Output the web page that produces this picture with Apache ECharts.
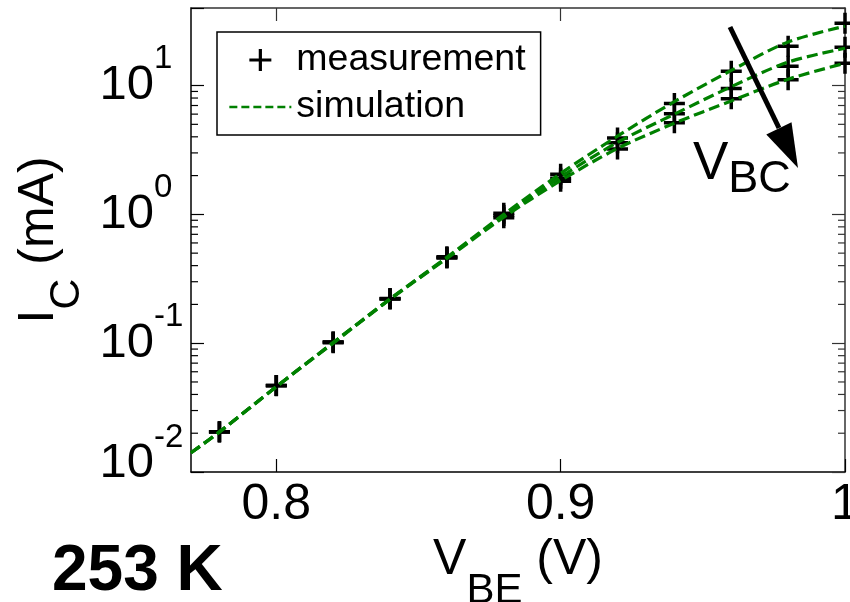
<!DOCTYPE html>
<html><head><meta charset="utf-8">
<script src="https://cdn.jsdelivr.net/npm/echarts@6/dist/echarts.min.js"></script>
<style>html,body{margin:0;padding:0;background:#fff}#c{width:850px;height:602px}</style>
</head><body><div id="c"></div>
<script>
// ---- data ----
const vbeMeas  = [0.78, 0.80, 0.82, 0.84, 0.86, 0.88, 0.90, 0.92, 0.94, 0.96, 0.98, 1.00];
const measHigh = [0.0205, 0.047, 0.102, 0.222, 0.468, 1.02, 2.05, 3.92, 7.24, 12.9, 20.2, 30.5];
const measMid  = [0.0205, 0.047, 0.102, 0.221, 0.463, 0.98, 1.91, 3.59, 6.04, 9.48, 14.1, 19.8];
const measLow  = [0.0204, 0.0468, 0.101, 0.220, 0.458, 0.94, 1.81, 3.22, 5.14, 7.91, 11.1, 14.9];

const vbeSim  = [0.77, 0.78, 0.80, 0.82, 0.84, 0.86, 0.88, 0.90, 0.92, 0.94, 0.96, 0.98, 1.00];
const simHigh = [0.0141, 0.0205, 0.046, 0.101, 0.221, 0.465, 1.00, 2.08, 4.05, 7.5, 13.1, 21.8, 28.9];
const simMid  = [0.0141, 0.0205, 0.046, 0.101, 0.220, 0.460, 0.975, 1.95, 3.62, 6.0, 9.8, 15.2, 19.5];
const simLow  = [0.0141, 0.0204, 0.0458, 0.100, 0.219, 0.455, 0.95, 1.83, 3.25, 5.1, 7.6, 11.2, 14.9];

const xTickValues = [0.8, 0.9, 1.0];
const yMinorTicks = [0.02,0.03,0.04,0.05,0.06,0.07,0.08,0.09,
                     0.2,0.3,0.4,0.5,0.6,0.7,0.8,0.9,
                     2,3,4,5,6,7,8,9];
const legendNames = ['measurement', 'simulation'];

// ---- chart ----
const FONT = "'Liberation Sans', Arial, Helvetica, sans-serif";
const XMIN = 0.77, XMAX = 1.0, YMIN = 0.01, YMAX = 40;
const pairs = (xs, ys) => xs.map((x, i) => [x, ys[i]]);
const measData = [].concat(pairs(vbeMeas, measHigh), pairs(vbeMeas, measMid), pairs(vbeMeas, measLow));
const PLUS = 'path://M0,10L20,10M10,0L10,20';
const simLine = {color: '#008000', width: 3.2, type: [11, 5]};

function yLabel(v) {
  const l = Math.log10(v); const k = Math.round(l);
  if (Math.abs(l - k) > 1e-3) return '';
  if (k === -2) return '{b2|10}{s2|' + k + '}';
  return '{b|10}{s|' + k + '}';
}
function simSeries(ys) {
  return {type: 'line', name: 'simulation', data: pairs(vbeSim, ys), symbol: 'none',
          smooth: 0.3, lineStyle: simLine, itemStyle: {color: '#008000'}, z: 3};
}

const chart = echarts.init(document.getElementById('c'));
chart.setOption({
  animation: false,
  grid: {left: 191, right: 5, top: 8, bottom: 130, containLabel: false, outerBoundsMode: 'none'},
  xAxis: [{
    type: 'value', min: XMIN, max: XMAX, position: 'bottom',
    axisLine: {show: true, onZero: false, lineStyle: {color: '#000', width: 1.5}},
    axisTick: {show: true, inside: true, length: 13, customValues: xTickValues, lineStyle: {color: '#000', width: 1.2}},
    axisLabel: {customValues: xTickValues, margin: 8, fontSize: 50, fontFamily: FONT, color: '#000',
                formatter: v => String(+(+v).toFixed(2))},
    splitLine: {show: false},
    name: '{b|V}{sub|BE}{b| (V)}', nameLocation: 'middle', nameGap: 59,
    nameTextStyle: {rich: {
      b: {fontSize: 50, fontFamily: FONT, color: '#000', lineHeight: 50, verticalAlign: 'top'},
      sub: {fontSize: 42, fontFamily: FONT, color: '#000', lineHeight: 78, verticalAlign: 'bottom'}
    }}
  }, {
    type: 'value', min: XMIN, max: XMAX, position: 'top',
    axisLine: {show: true, onZero: false, lineStyle: {color: '#333', width: 1.5}},
    axisTick: {show: true, inside: true, length: 13, customValues: xTickValues, lineStyle: {color: '#333', width: 1.2}},
    axisLabel: {show: false}, splitLine: {show: false}
  }],
  yAxis: [{
    type: 'log', logBase: 10, min: YMIN, max: YMAX, position: 'left',
    axisLine: {show: true, onZero: false, lineStyle: {color: '#000', width: 1.5}},
    axisTick: {show: true, inside: true, length: 13, lineStyle: {color: '#000', width: 1.2}},
    axisLabel: {formatter: yLabel, margin: 6, rich: {
      b: {fontSize: 49, fontFamily: FONT, color: '#000', lineHeight: 86, verticalAlign: 'middle', align: 'left'},
      s: {fontSize: 33, fontFamily: FONT, color: '#000', lineHeight: 33, verticalAlign: 'top', width: 31, align: 'left'},
      b2: {fontSize: 49, fontFamily: FONT, color: '#000', lineHeight: 49, verticalAlign: 'top', align: 'left', padding: [18, 0, 0, 0]},
      s2: {fontSize: 33, fontFamily: FONT, color: '#000', lineHeight: 102, verticalAlign: 'top', width: 31, align: 'left'}
    }},
    splitLine: {show: false}, minorTick: {show: false},
    name: '{b|I}{sub|C}{b| (mA)}', nameLocation: 'middle', nameRotate: 90, nameGap: 76,
    nameTextStyle: {rich: {
      b: {fontSize: 50, fontFamily: FONT, color: '#000', lineHeight: 50, verticalAlign: 'top'},
      sub: {fontSize: 43, fontFamily: FONT, color: '#000', lineHeight: 74, verticalAlign: 'bottom'}
    }}
  }, {
    type: 'log', logBase: 10, min: YMIN, max: YMAX, position: 'right',
    axisLine: {show: true, onZero: false, lineStyle: {color: '#333', width: 1.5}},
    axisTick: {show: true, inside: true, length: 13, lineStyle: {color: '#333', width: 1.2}},
    axisLabel: {show: false}, splitLine: {show: false}
  }],
  legend: {
    orient: 'vertical', left: 217, top: 32, padding: [9, 15, 9, 11],
    borderColor: '#000', borderWidth: 1.5, backgroundColor: '#fff',
    itemWidth: 62, itemHeight: 22, itemGap: 9,
    textStyle: {fontSize: 37.5, fontFamily: FONT, color: '#000'},
    lineStyle: {width: 2.7, type: [8, 4], color: '#008000'},
    data: [
      {name: legendNames[0], itemStyle: {color: 'rgba(0,0,0,0)', borderColor: '#000', borderWidth: 3.2, opacity: 1}},
      {name: legendNames[1], itemStyle: {color: 'rgba(0,0,0,0)', borderColor: 'rgba(0,0,0,0)', borderWidth: 0, opacity: 0}}
    ]
  },
  series: [
    {type: 'scatter', name: 'measurement', data: measData, symbol: PLUS, symbolSize: 21,
     symbolKeepAspect: true, clip: false, z: 2,
     itemStyle: {color: 'rgba(0,0,0,0)', borderColor: '#000', borderWidth: 3.5, opacity: 1}},
    simSeries(simHigh), simSeries(simMid), simSeries(simLow),
    {type: 'custom', name: 'minorTicks', silent: true, z: 4,
     data: yMinorTicks.map(v => [XMIN, v]),
     renderItem: (params, api) => {
       const cs = params.coordSys;
       const y = api.coord([XMIN, api.value(1)])[1];
       return {type: 'group', children: [
         {type: 'line', shape: {x1: cs.x, y1: y, x2: cs.x + 7, y2: y}, style: {stroke: '#000', lineWidth: 1.2}},
         {type: 'line', shape: {x1: cs.x + cs.width - 7, y1: y, x2: cs.x + cs.width, y2: y}, style: {stroke: '#333', lineWidth: 1.2}}
       ]};
     }}
  ],
  graphic: [
    {type: 'line', shape: {x1: 730, y1: 27, x2: 779, y2: 128}, style: {stroke: '#000', lineWidth: 5}, z: 10},
    {type: 'polygon', shape: {points: [[798, 168], [791.5, 122.3], [766.3, 134.5]]}, style: {fill: '#000'}, z: 10},
    {type: 'text', x: 693, y: 137.5, z: 10, style: {
      text: '{v|V}{s|BC}', align: 'left', verticalAlign: 'top',
      rich: {
        v: {fontSize: 53, fontFamily: FONT, fill: '#000', lineHeight: 53, verticalAlign: 'top'},
        s: {fontSize: 45, fontFamily: FONT, fill: '#000', lineHeight: 65, verticalAlign: 'bottom'}
      }}},
    {type: 'text', x: 52, y: 572, z: 10, style: {
      text: '253 K', fill: '#000', align: 'left', verticalAlign: 'middle',
      font: "bold 64px 'Liberation Sans', Arial, sans-serif"}}
  ]
});
</script></body></html>
